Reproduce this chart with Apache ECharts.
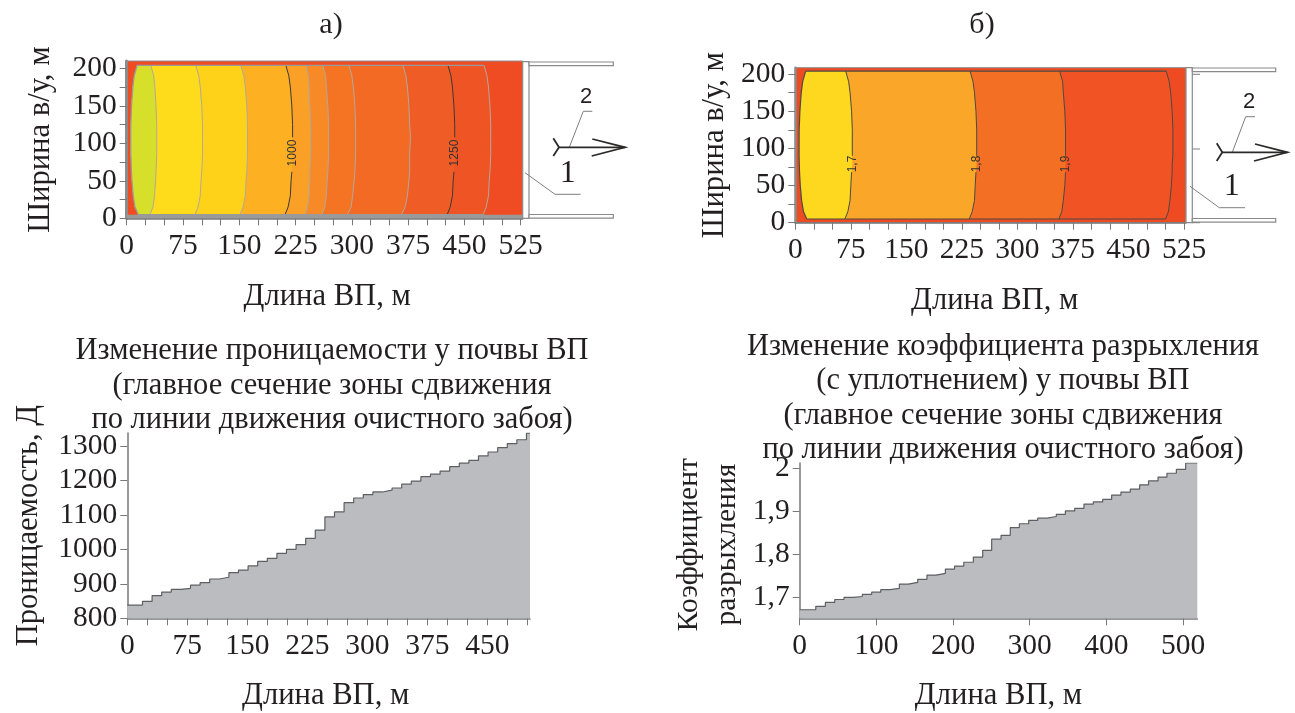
<!DOCTYPE html>
<html><head><meta charset="utf-8">
<style>html,body{margin:0;padding:0;background:#fff}#c{width:1295px;height:713px}</style>
<script src="https://cdn.jsdelivr.net/npm/echarts@6/dist/echarts.min.js"></script>
</head><body><div id="c"></div>
<script>
// ---- Panel a) contour map: x position (m) of each isoline at the listed widths (m)
const widthLevelsA = [5,15,30,50,62,85,108,125,150,175,190,204];
const leftEdgeA = [15.5,11,8.7,7,6.3,5.5,5.3,5.5,6.4,8.2,10,14];
const isoA1 = [31,35,37,38.5,39,40,40,40,39,37.5,36,32];
const isoA2 = [91,95,98,99,100,101,101,101,100,98,96,92];
const isoA3 = [151,155,158,159,160,161,161,161,160,158,156,152];
const isoA4 = [211,215,218,219,220,221,221,221,220,218,216,212];
const isoA5 = [238,241,243,244,244,245,245,245,244,243,242,239];
const isoA6 = [260,264,266,267,268,269,269,269,268,266,265,261];
const isoA7 = [294,299,301,303,304,305,305,305,304,302,300,296];
const isoA8 = [366,371,374,376,377,377,378,377,376,374,372,368];
const isoA9 = [427,431,434,435,436,437,437,437,436,434,432,428];
const isoA10 = [475,479,482,483,484,485,485,485,484,482,480,476];
const isolinesA = [isoA1,isoA2,isoA3,isoA4,isoA5,isoA6,isoA7,isoA8,isoA9,isoA10];
const bandColorsA = ['#d6df2a','#fedc1c','#ffd21a','#fdb022','#faa026','#f78a26','#f47424','#f36a24','#f05c25','#ef5425'];
const isoLabelsA = [null,null,null,'1000',null,null,null,null,'1250',null];

// ---- Panel б) contour map
const widthLevelsB = [5,15,30,50,68,79,90,125,150,175,190,204];
const leftEdgeB = [15.4,11,8.5,6.7,5.7,5.4,5.1,5.2,6.2,8,10,14];
const isoB1 = [67,71,74,75,76,77,77,77,76,74,72,68];
const isoB2 = [235,239,242,243,244,245,245,245,244,242,240,236];
const isoB3 = [356,360,362,364,365,365,365,365,364,362,361,357];
const isoB4 = [500,504,506,508,509,509,510,510,509,507,505,501];
const isolinesB = [isoB1,isoB2,isoB3,isoB4];
const bandColorsB = ['#fdd81f','#faa628','#f36f24','#f15324'];
const isoLabelsB = ['1,7','1,8','1,9',null];

// ---- Lower-left: permeability steps
const permX = [0,19,31,43,55,67,79,91,103,115,127,139,151,163,175,187,199,211,223,235,247,259,271,283,295,307,319,331,343,355,367,379,391,403,415,427,439,451,463,475,487,499,503.4];
const permY = [838,849,866,876,884,887,896,903.5,914,919,932.5,940,952,965,974,988.6,1000,1014,1032,1056,1094,1108.5,1135.5,1149,1159,1166.5,1172,1178,1189,1198,1211,1218,1227,1240,1250,1258,1271,1282.5,1295,1307,1318,1337,1337];

// ---- Lower-right: loosening coefficient steps
const coefX = [0,21,33.5,45.7,57.8,70,81.7,93.9,105.7,117.8,130,141.7,153.9,166,177.8,190,202,214,226.5,238.7,250.4,262.6,274.7,286.5,298.7,310.4,322.6,334.7,346.5,358.7,370.8,383,395.2,406.9,419,431.2,443.4,455,467.4,479,491.3,503.4,518.6];
const coefY = [1.670,1.678,1.687,1.694,1.699,1.701,1.706,1.711,1.717,1.720,1.730,1.734,1.741,1.751,1.755,1.765,1.772,1.781,1.793,1.809,1.835,1.844,1.862,1.871,1.879,1.884,1.888,1.893,1.901,1.907,1.917,1.922,1.928,1.938,1.945,1.952,1.962,1.971,1.980,1.989,1.998,2.013,2.013];

// ---- Tick values and text
const ticks25to525 = [0,25,50,75,100,125,150,175,200,225,250,275,300,325,350,375,400,425,450,475,500,525];
const labels75to525 = [0,75,150,225,300,375,450,525];
const ticksWidth = [0,25,50,75,100,125,150,175,200];
const labelsWidth = [0,50,100,150,200];
const ticksPermX = [0,25,50,75,100,125,150,175,200,225,250,275,300,325,350,375,400,425,450,475,500];
const labelsPermX = [0,75,150,225,300,375,450];
const ticksPermY = [800,900,1000,1100,1200,1300];
const ticksCoefX = [0,100,200,300,400,500];
const ticksCoefY = [1.7,1.8,1.9,2];
const titlePerm = 'Изменение проницаемости у почвы ВП\n(главное сечение зоны сдвижения\nпо линии движения очистного забоя)';
const titleCoef = 'Изменение коэффициента разрыхления\n(с уплотнением) у почвы ВП\n(главное сечение зоны сдвижения\nпо линии движения очистного забоя)';

const SERIF = '"Liberation Serif","Times New Roman",serif';
const INK = '#231f20';
const AXC = '#77787b';

function axisBase(name, gap, tickVals, labelVals, min, max, opt){
  const base = {
    type:'value', min, max, name, nameLocation:'middle', nameGap:gap,
    nameTextStyle:{fontFamily:SERIF,fontSize:30.6,color:INK},
    splitLine:{show:false},
    axisLine:{show:true,onZero:false,lineStyle:{color:AXC,width:1.5}},
    axisTick:{show:true,length:7,customValues:tickVals,lineStyle:{color:AXC,width:1}},
    axisLabel:{customValues:labelVals,fontFamily:SERIF,fontSize:29.5,color:INK,margin:10,hideOverlap:false,
      formatter:v=>String(v).replace('.',',')}
  };
  const o = Object.assign(base, opt||{});
  if(opt && opt.labelMargin!==undefined){ o.axisLabel.margin = opt.labelMargin; delete o.labelMargin; }
  if(opt && opt.namePad){ o.nameTextStyle = Object.assign({},o.nameTextStyle,{padding:opt.namePad}); delete o.namePad; }
  return o;
}

function contourSeries(gridIdx, levels, leftEdge, isolines, colors, labels, opts){
  const order = isolines.map((_,i)=>i).reverse();
  return {
    type:'custom', coordinateSystem:'cartesian2d', xAxisIndex:gridIdx, yAxisIndex:gridIdx, silent:true, z:3,
    clip:false,
    data:order,
    renderItem:function(params, api){
      const i = api.value(0);
      const iso = isolines[i];
      const outer = levels.map((y,k)=>api.coord([iso[k],y]));
      const inner = levels.map((y,k)=>api.coord([leftEdge[k],y])).reverse();
      const kids = [{type:'polygon',shape:{points:outer.concat(inner)},style:{fill:colors[i]}}];
      const dark = !!labels[i] || opts.allDark;
      const stroke = dark ? opts.darkLine : opts.lightLine;
      const ls = {fill:null,stroke,lineWidth:opts.lw};
      if(labels[i]){
        const gapLo = levels.indexOf(opts.gap[0]), gapHi = levels.indexOf(opts.gap[1]);
        kids.push({type:'polyline',shape:{points:outer.slice(0,gapLo+1)},style:ls});
        kids.push({type:'polyline',shape:{points:outer.slice(gapHi)},style:ls});
        const mid = api.coord([iso[gapLo+1], opts.labelY]);
        kids.push({type:'text',x:mid[0],y:mid[1],rotation:Math.PI/2,
          style:{text:labels[i],fill:'#333',font:opts.labelFont,align:'center',verticalAlign:'middle'}});
      } else {
        kids.push({type:'polyline',shape:{points:outer},style:ls});
      }
      if(i===0){
        const far = isolines[isolines.length-1];
        const edgeStyle = {fill:null,stroke:opts.edgeLine,lineWidth:opts.edgeW};
        kids.push({type:'polyline',shape:{points:inner},style:edgeStyle});
        kids.push({type:'polyline',shape:{points:[inner[0],api.coord([far[far.length-1],levels[levels.length-1]])]},style:edgeStyle});
        kids.push({type:'polyline',shape:{points:[inner[inner.length-1],api.coord([far[0],levels[0]])]},style:edgeStyle});
        if(opts.floorBar){
          kids.push({type:'polyline',shape:{points:[api.coord([0,opts.floorBar[0]]),api.coord([opts.floorBar[1],opts.floorBar[0]])]},
            style:{fill:null,stroke:opts.edgeLine,lineWidth:opts.floorBar[2]}});
        }
      }
      return {type:'group',children:kids};
    }
  };
}

function stepSeries(gridIdx, xs, ys){
  return {type:'line',xAxisIndex:gridIdx,yAxisIndex:gridIdx,step:'end',symbol:'none',silent:true,z:3,
    data:xs.map((x,i)=>[x,ys[i]]),
    lineStyle:{color:'#5e5f62',width:1.2},
    areaStyle:{color:'#bbbcc0',opacity:1,origin:'start'}};
}

const ANN = {stroke:'#7f7f7f',lineWidth:1,fill:null};
const ARW = {stroke:'#2b2a29',lineWidth:1.8,fill:null};
function poly(points, style){ return {type:'polyline',shape:{points},style:style,z:10,silent:true}; }
function box(x,y,w,h){ return {type:'rect',shape:{x,y,width:w,height:h},style:{fill:'#fff',stroke:'#8a8a8a',lineWidth:1.2},z:10,silent:true}; }
function txt(x,y,text,font){ return {type:'text',x,y,style:{text,font,fill:INK,align:'center',verticalAlign:'middle'},z:10,silent:true}; }

const option = {
  animation:false, backgroundColor:'#fff',
  title:[
    {text:titlePerm,left:327,top:329,textAlign:'center',textStyle:{fontFamily:SERIF,fontSize:30.5,fontWeight:'normal',color:INK,lineHeight:34.5}},
    {text:titleCoef,left:998,top:325,textAlign:'center',textStyle:{fontFamily:SERIF,fontSize:30.5,fontWeight:'normal',color:INK,lineHeight:34.3}}
  ],
  grid:[
    {left:126.7,top:61,width:396,height:157.3,show:true,backgroundColor:'#ef4c23',borderColor:'#8c8c8c',borderWidth:1},
    {left:795.3,top:67.7,width:390.7,height:155,show:true,backgroundColor:'#ef4b23',borderColor:'#8c8c8c',borderWidth:1},
    {left:127.3,top:433,width:402.7,height:185.3},
    {left:799.7,top:463,width:397.6,height:155.3}
  ],
  xAxis:[
    axisBase('Длина ВП, м',63.5,ticks25to525,labels75to525,0,527.6,{gridIndex:0,labelMargin:13,namePad:[0,0,0,5]}),
    axisBase('Длина ВП, м',63,ticks25to525,labels75to525,0,527.7,{gridIndex:1,labelMargin:13,namePad:[0,0,0,8]}),
    axisBase('Длина ВП, м',62,ticksPermX,labelsPermX,0,503.4,{gridIndex:2,labelMargin:13,namePad:[0,6,0,0]}),
    axisBase('Длина ВП, м',62,ticksCoefX,ticksCoefX,0,518.6,{gridIndex:3,labelMargin:13})
  ],
  yAxis:[
    axisBase('Ширина в/у, м',70,ticksWidth,labelsWidth,0,209.7,{gridIndex:0,axisLine:{show:true,onZero:false,lineStyle:{color:'#8c8c8c',width:3}}}),
    axisBase('Ширина в/у, м',65,ticksWidth,labelsWidth,0,208.5,{gridIndex:1,axisLine:{show:true,onZero:false,lineStyle:{color:'#8c8c8c',width:2.5}}}),
    axisBase('Проницаемость, Д',83,ticksPermY,ticksPermY,800,1337.6,{gridIndex:2}),
    axisBase('Коэффициент\nразрыхления',53,ticksCoefY,ticksCoefY,1.65,2.013,{gridIndex:3,nameTextStyle:{fontFamily:SERIF,fontSize:29.5,color:INK,lineHeight:38,padding:[0,8,0,0]}})
  ],
  series:[
    contourSeries(0,widthLevelsA,leftEdgeA,isolinesA,bandColorsA,isoLabelsA,
      {lightLine:'#b3a89a',darkLine:'#3a3a3a',lw:1,gap:[62,108],labelY:87,labelFont:'12px "Liberation Sans"',edgeLine:'#9a9a9a',edgeW:1.3,floorBar:[2.5,527,3.5]}),
    contourSeries(1,widthLevelsB,leftEdgeB,isolinesB,bandColorsB,isoLabelsB,
      {allDark:true,darkLine:'#4a4a44',lightLine:'#4a4a44',lw:1,gap:[68,90],labelY:79,labelFont:'12px "Liberation Sans"',edgeLine:'#4a4a44',edgeW:1.2}),
    stepSeries(2,permX,permY),
    stepSeries(3,coefX,coefY)
  ],
  graphic:[
    txt(331,25,'а)','30px '+SERIF), txt(982,25,'б)','30px '+SERIF),
    // support structure and advance arrow, panel a)
    box(522.7,61.7,6.3,156.6), box(529,62,84.3,3.7), box(529,214.5,84.3,3.7),
    poly([[569.3,147.3],[583.3,111.3],[592.3,111.3]],ANN), poly([[525,172.7],[555,194.3],[580.7,194.3]],ANN),
    poly([[558.3,147.3],[625,147.3]],ARW), poly([[553.3,138.3],[559,147.3],[553.3,156]],ARW), poly([[592.3,139],[625,147.3],[591.7,156]],ARW),
    txt(586,97,'2','22px "Liberation Sans"'), txt(567.7,174,'1','32px '+SERIF),
    // support structure and advance arrow, panel б)
    box(1186,67.7,6.3,155), box(1192.3,68,83.4,3.7), box(1192.3,218.5,83.4,3.7),
    poly([[1192.3,74.3],[1200,74.3]],ANN), poly([[1192.3,149],[1200,149]],ANN), poly([[1192.3,222.7],[1200,222.7]],ANN),
    poly([[1232.3,152.3],[1245.7,116.7],[1255,116.7]],ANN), poly([[1190,186.3],[1219.3,207.7],[1245,207.7]],ANN),
    poly([[1221.7,152.3],[1287.3,152.3]],ARW), poly([[1216.7,143.3],[1222.3,152.3],[1216.7,161]],ARW), poly([[1255,144],[1287.3,152.3],[1254,161]],ARW),
    txt(1249,102,'2','22px "Liberation Sans"'), txt(1231.7,187,'1','32px '+SERIF)
  ]
};
echarts.init(document.getElementById('c'),null,{renderer:'canvas'}).setOption(option);
</script>
</body></html>
